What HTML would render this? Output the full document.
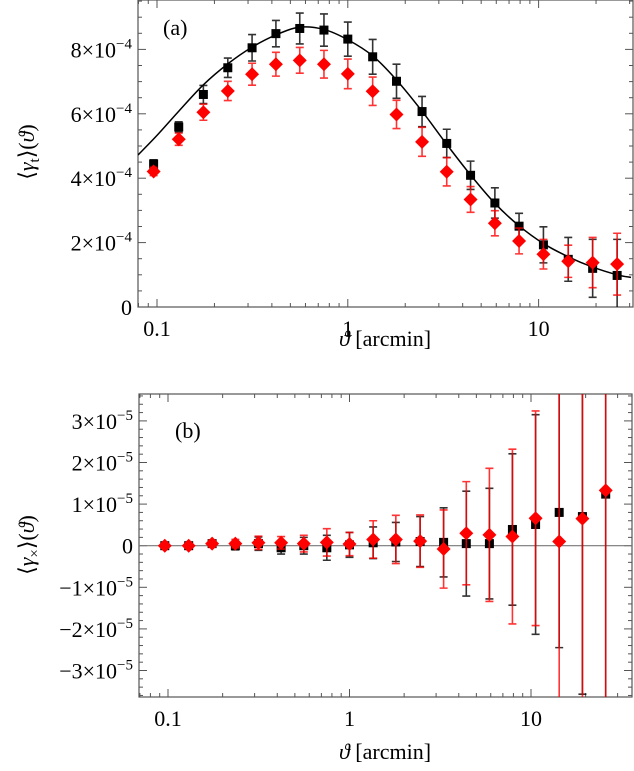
<!DOCTYPE html>
<html><head><meta charset="utf-8">
<style>
html,body{margin:0;padding:0;background:#fff;}
svg{display:block;}
svg text{font-family:"Liberation Serif","DejaVu Serif",serif;}
</style></head>
<body>
<svg id="chart" width="634" height="771" viewBox="0 0 634 771" xmlns="http://www.w3.org/2000/svg" font-family="Liberation Serif, DejaVu Serif, serif">
<defs>
<clipPath id="clipA"><rect x="138" y="0" width="495" height="307"/></clipPath>
<clipPath id="clipB"><rect x="139" y="394" width="493" height="303"/></clipPath>
</defs>
<g id="panelA"></g>
<g id="panelB"></g>
</svg>
<script>
// ---- shared data ----
const thetas = [0.096,0.13,0.175,0.235,0.315,0.42,0.56,0.75,1.0,1.35,1.8,2.45,3.3,4.4,5.9,7.9,10.6,14.3,19.2,25.8];
// panel (a) in units of 1e-4
const gtBlack = [4.44,5.59,6.6,7.43,8.05,8.49,8.65,8.6,8.32,7.77,7.01,6.07,5.08,4.09,3.23,2.51,1.93,1.48,1.2,0.98];
const gtBlackErr = [0.13,0.16,0.28,0.3,0.41,0.41,0.48,0.5,0.53,0.54,0.53,0.47,0.44,0.44,0.47,0.4,0.56,0.68,0.9,1.12];
const gtRed = [4.21,5.21,6.05,6.71,7.23,7.54,7.66,7.54,7.24,6.7,5.98,5.13,4.2,3.34,2.6,2.05,1.64,1.42,1.38,1.33];
const gtRedErr = [0.13,0.19,0.25,0.3,0.34,0.37,0.4,0.43,0.46,0.44,0.44,0.45,0.44,0.4,0.39,0.4,0.46,0.5,0.78,0.96];
const modelX = [0.0795,0.1,0.13,0.175,0.235,0.315,0.42,0.56,0.75,1.0,1.35,1.8,2.45,3.3,4.4,5.9,7.9,10.6,14.3,19.2,25.8,30.5];
const modelY = [4.72,5.33,6.08,6.9,7.55,8.07,8.45,8.69,8.62,8.3,7.8,7.05,6.08,5.05,4.1,3.22,2.52,1.97,1.56,1.24,1.0,0.92];
// panel (b) in units of 1e-5
const gxBlack = [0,0,0.05,0,0.05,-0.05,0,-0.05,0.02,0.07,0.09,0.1,0.08,0.05,0.05,0.39,0.51,0.8,0.7,1.24];
const gxBlackErr = [0.06,0.06,0.08,0.1,0.16,0.15,0.2,0.3,0.3,0.38,0.47,0.6,0.83,1.26,1.33,1.82,2.64,3.25,4.27,6];
const gxRed = [0,0,0.05,0.05,0.07,0.07,0.05,0.08,0.04,0.15,0.15,0.11,-0.08,0.3,0.26,0.22,0.66,0.1,0.65,1.33];
const gxRedErr = [0.06,0.06,0.08,0.1,0.16,0.15,0.2,0.33,0.28,0.45,0.58,0.63,0.94,1.24,1.6,2.1,2.58,6,6,6];
const yTicksA = [0,2,4,6,8];
const yTicksB = [-3,-2,-1,0,1,2,3];
const xTicks = [0.1,1,10];
const xTickLabels = ["0.1","1","10"];

const NS="http://www.w3.org/2000/svg";
const FONT='"Liberation Serif","DejaVu Serif",serif';
function mk(tag,attrs,parent){const e=document.createElementNS(NS,tag);for(const k in attrs)e.setAttribute(k,attrs[k]);if(tag==='text')e.style.fontFamily=FONT;parent.appendChild(e);return e;}

function drawPanel(g,cfg){
  const {x0,x1,y0,y1,xs,ys,clip}=cfg;
  const fr=mk('rect',{x:x0,y:y0,width:x1-x0,height:y1-y0,fill:'none',stroke:'#555','stroke-width':1.2},g);
  
  
  for(let d=-2;d<=2;d++){
    for(let m=1;m<=9;m++){
      const v=m*Math.pow(10,d);const px=xs(v);
      if(px<=x0||px>=x1)continue;
      const L=m===1?8:4;
      mk('line',{x1:px,y1:y1,x2:px,y2:y1-L,stroke:'#555','stroke-width':1},g);
      mk('line',{x1:px,y1:y0,x2:px,y2:y0+L,stroke:'#555','stroke-width':1},g);
    }
  }
  xTicks.forEach((v,i)=>{
    const t=mk('text',{x:xs(v),y:y1+29,'text-anchor':'middle','font-size':22,fill:'#000'},g);
    t.textContent=xTickLabels[i];
    
    
  });
  for(let v=cfg.yMinTick;v<=cfg.yMaxTick+1e-9;v+=cfg.minorStep){
    const py=ys(v);if(py<=y0||py>=y1)continue;
    const major=Math.abs(v/cfg.majorStep-Math.round(v/cfg.majorStep))<1e-6;
    const L=major?8:4;
    mk('line',{x1:x0,y1:py,x2:x0+L,y2:py,stroke:'#555','stroke-width':1},g);
    mk('line',{x1:x1,y1:py,x2:x1-L,y2:py,stroke:'#555','stroke-width':1},g);
  }
  cfg.yTicks.forEach(v=>{
    const t=mk('text',{x:x0-6,y:ys(v)+8,'text-anchor':'end','font-size':22,fill:'#000'},g);
    
    
    if(v===0){t.textContent='0';}
    else{
      const a=document.createElementNS(NS,'tspan');a.textContent=(v<0?'\u2212':'')+Math.abs(v)+'\u00d710';t.appendChild(a);
      const b=document.createElementNS(NS,'tspan');b.setAttribute('dy','-9');b.setAttribute('font-size','15');b.textContent='\u2212'+cfg.exp;t.appendChild(b);
    }
  });
  const cg=mk('g',{'clip-path':'url(#'+clip+')'},g);
  return cg;
}

function drawSeries(cg,xs,ys,vals,errs,color,shape,name){
  const sg=mk('g',{},cg);
  
  
  thetas.forEach((t,i)=>{
    const px=xs(t),pt=ys(vals[i]+errs[i]),pb=ys(vals[i]-errs[i]);
    const eb=mk('path',{d:`M${px},${pt}V${pb}M${px-4},${pt}H${px+4}M${px-4},${pb}H${px+4}`,stroke:color,'stroke-width':1.6,fill:'none','stroke-opacity':0.8},sg);
    
    
  });
  thetas.forEach((t,i)=>{
    const px=xs(t),py=ys(vals[i]);
    let m;
    if(shape==='sq') m=mk('rect',{x:px-4.5,y:py-4.5,width:9,height:9,fill:color},sg);
    else m=mk('path',{d:`M${px},${py-7}L${px+7},${py}L${px},${py+7}L${px-7},${py}Z`,fill:color},sg);
    
    
  });
}

// ---- Panel A ----
const xA=v=>157+190.8*Math.log10(v/0.1);
const yA=v=>307-32.2*v;
const gA=document.getElementById('panelA');
const cA=drawPanel(gA,{x0:138,x1:633,y0:0,y1:307,xs:xA,ys:yA,clip:'clipA',yTicks:yTicksA,yMinTick:0,yMaxTick:9.5,minorStep:0.5,majorStep:2,exp:'4'});
(function(){
  const P=modelX.map((x,i)=>[xA(x),yA(modelY[i])]);
  let d=`M${P[0][0]},${P[0][1]}`;
  for(let i=0;i<P.length-1;i++){
    const p0=P[Math.max(0,i-1)],p1=P[i],p2=P[i+1],p3=P[Math.min(P.length-1,i+2)];
    d+=`C${p1[0]+(p2[0]-p0[0])/6},${p1[1]+(p2[1]-p0[1])/6} ${p2[0]-(p3[0]-p1[0])/6},${p2[1]-(p3[1]-p1[1])/6} ${p2[0]},${p2[1]}`;
  }
  const c=mk('path',{d:d,fill:'none',stroke:'#000','stroke-width':1.5},cA);
  
  
})();
drawSeries(cA,xA,yA,gtBlack,gtBlackErr,'#000','sq','tangential-black');
drawSeries(cA,xA,yA,gtRed,gtRedErr,'#f00','di','tangential-red');
let t=mk('text',{x:163,y:35,'font-size':22},gA);t.textContent='(a)';


t=mk('text',{x:385,y:346,'text-anchor':'middle','font-size':22},gA);
t.innerHTML='<tspan font-style="italic">\u03d1</tspan> [arcmin]';


t=mk('text',{x:0,y:0,'text-anchor':'middle','font-size':22,transform:'translate(34,152) rotate(-90)'},gA);
t.innerHTML='\u27e8<tspan font-style="italic">\u03b3</tspan><tspan font-size="15" dy="5">t</tspan><tspan dy="-5">\u27e9(</tspan><tspan font-style="italic">\u03d1</tspan>)';



// ---- Panel B ----
const xB=v=>168+181.5*Math.log10(v/0.1);
const yB=v=>545.7-41.6*v;
const gB=document.getElementById('panelB');
const cB=drawPanel(gB,{x0:139,x1:632,y0:394,y1:697,xs:xB,ys:yB,clip:'clipB',yTicks:yTicksB,yMinTick:-3.6,yMaxTick:3.6,minorStep:0.2,majorStep:1,exp:'5'});
const zl=mk('line',{x1:139,y1:yB(0),x2:632,y2:yB(0),stroke:'#777','stroke-width':1.2},cB);


drawSeries(cB,xB,yB,gxBlack,gxBlackErr,'#000','sq','cross-black');
drawSeries(cB,xB,yB,gxRed,gxRedErr,'#f00','di','cross-red');
t=mk('text',{x:175,y:438,'font-size':22},gB);t.textContent='(b)';


t=mk('text',{x:385,y:759,'text-anchor':'middle','font-size':22},gB);
t.innerHTML='<tspan font-style="italic">\u03d1</tspan> [arcmin]';


t=mk('text',{x:0,y:0,'text-anchor':'middle','font-size':22,transform:'translate(34,545) rotate(-90)'},gB);
t.innerHTML='\u27e8<tspan font-style="italic">\u03b3</tspan><tspan font-size="15" dy="5">\u00d7</tspan><tspan dy="-5">\u27e9(</tspan><tspan font-style="italic">\u03d1</tspan>)';


</script>
</body></html>
